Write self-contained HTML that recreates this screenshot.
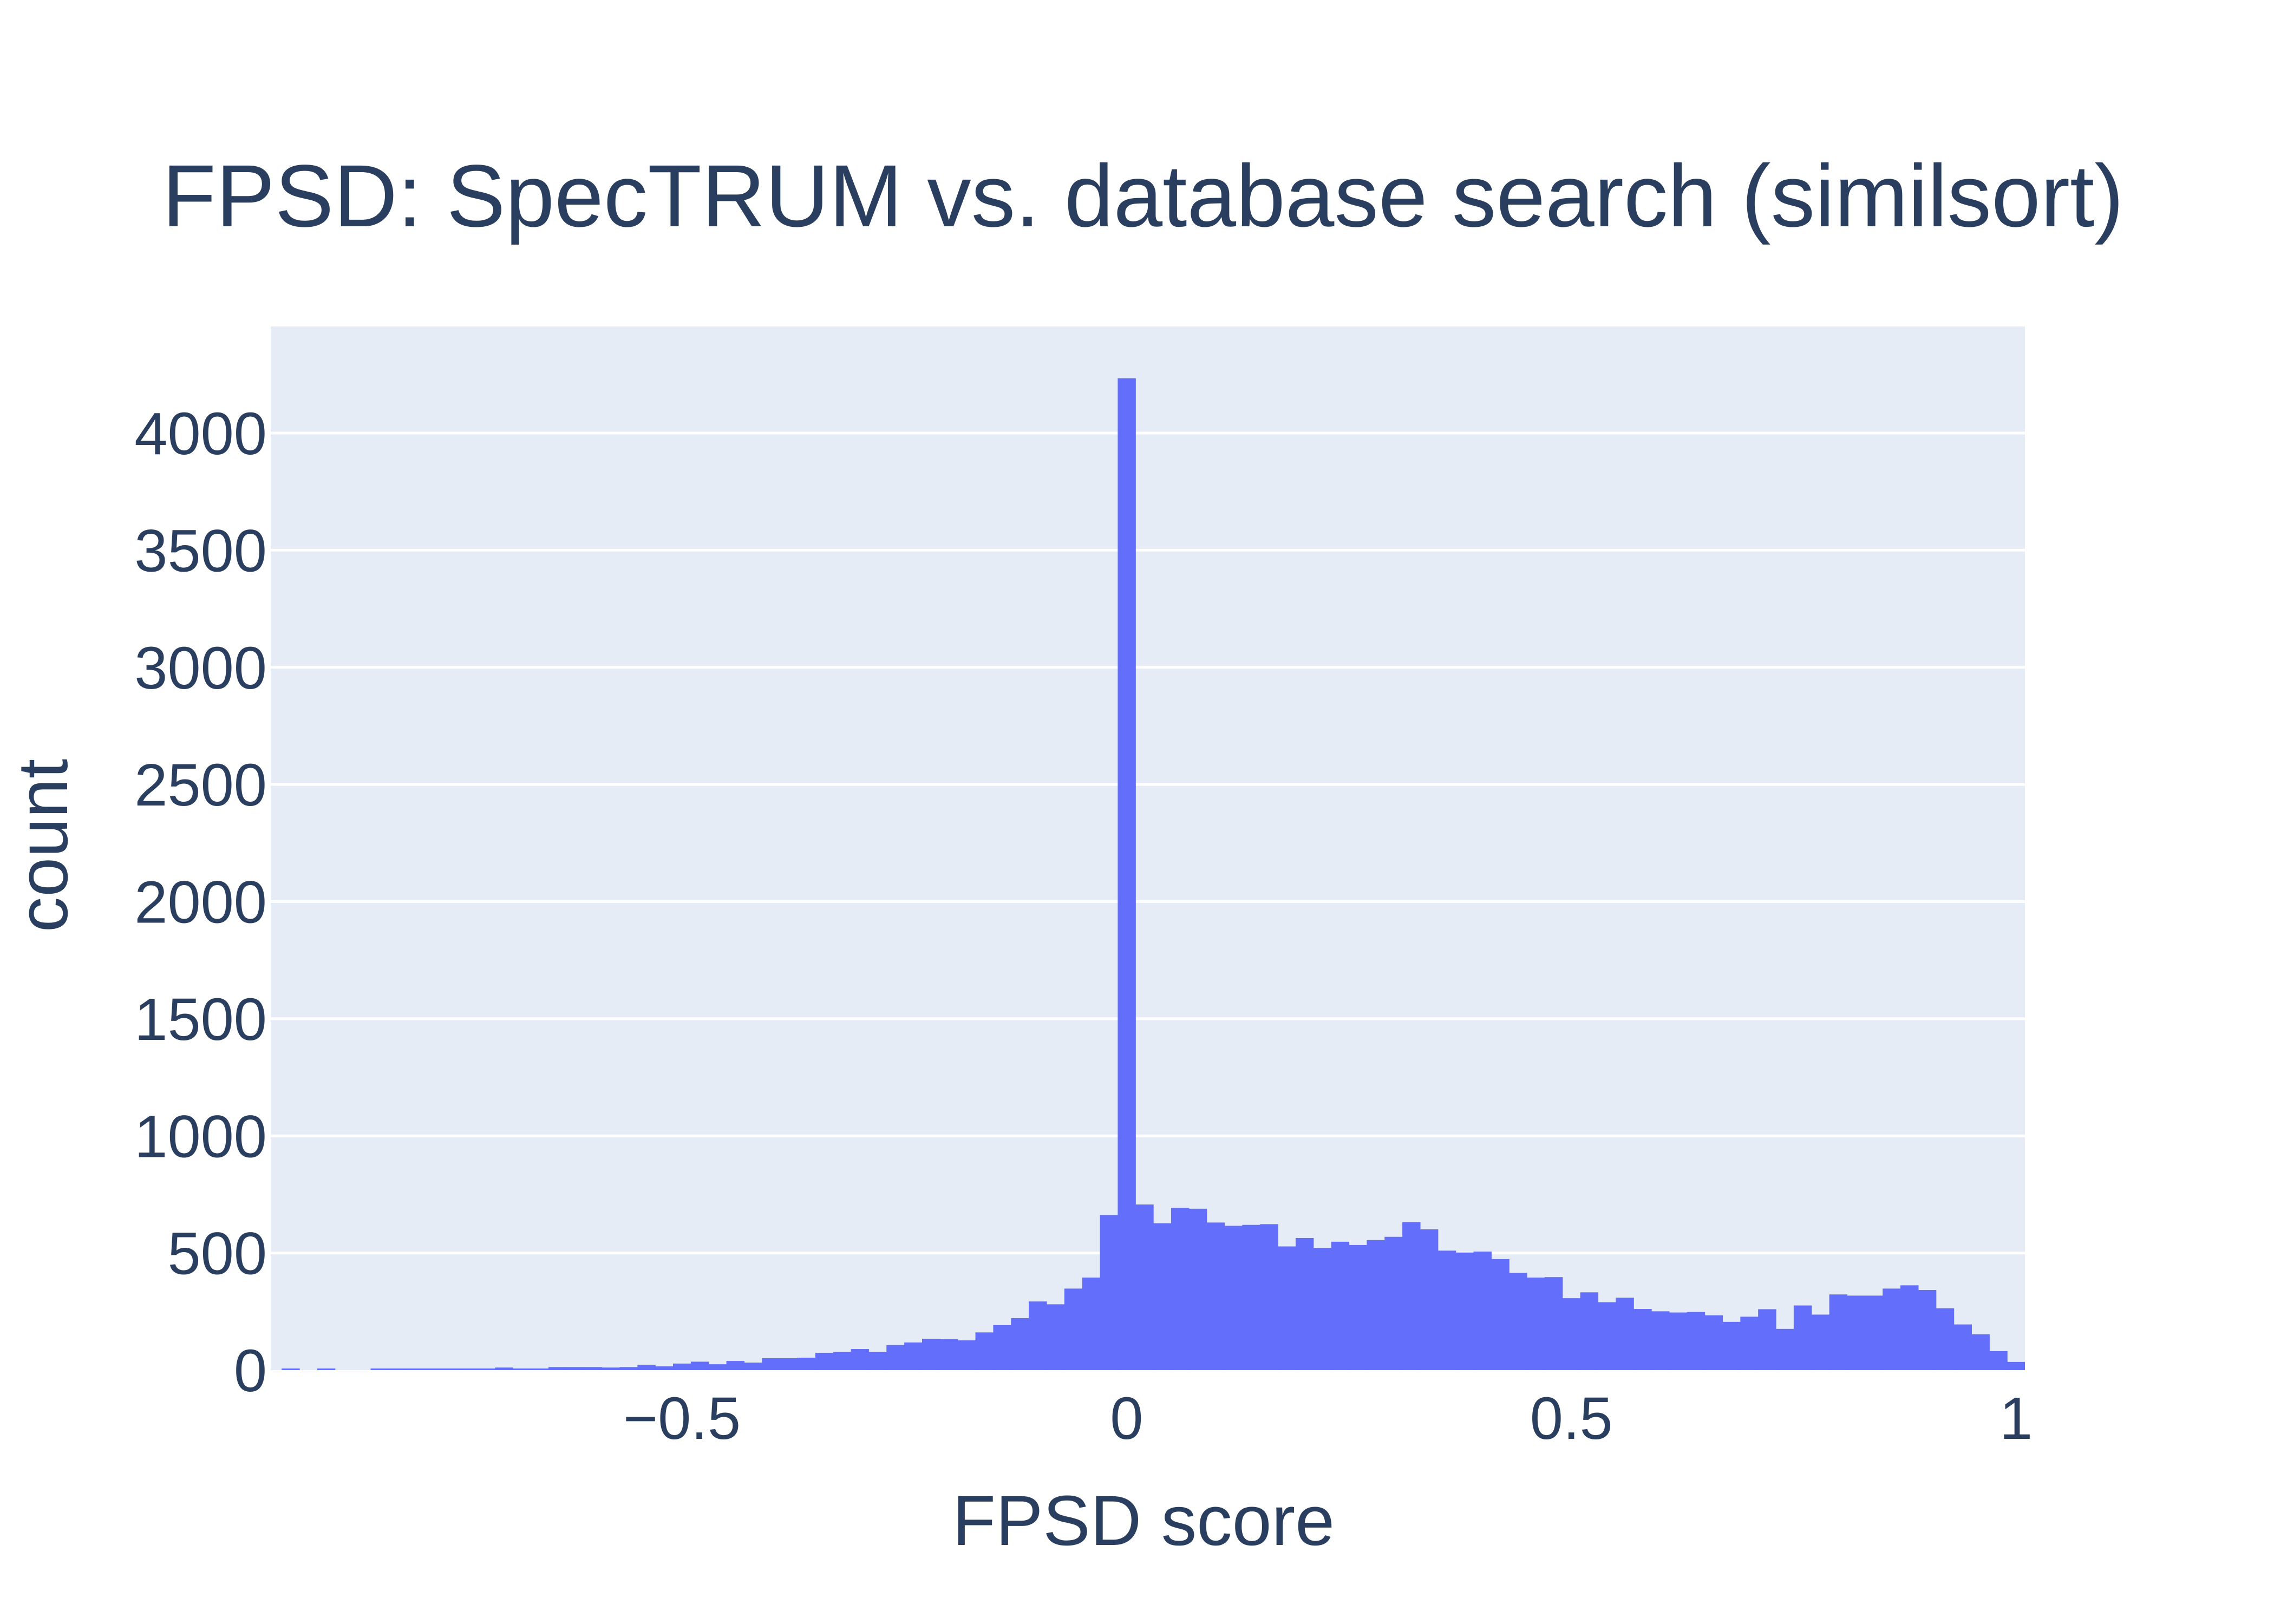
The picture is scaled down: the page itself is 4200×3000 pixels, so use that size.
<!DOCTYPE html>
<html><head><meta charset="utf-8"><style>
html,body{margin:0;padding:0;background:#fff;}
svg{display:block;font-family:"Liberation Sans",Arial,sans-serif;}
</style></head><body>
<svg id="chart" width="4200" height="3000" viewBox="0 0 4200 3000" xmlns="http://www.w3.org/2000/svg">
<rect width="4200" height="3000" fill="#ffffff"/>
<text x="2111" y="418" font-size="163" fill="#2a3f5f" text-anchor="middle">FPSD: SpecTRUM vs. database search (similsort)</text>
<defs><clipPath id="pc"><rect x="500" y="603" width="3240" height="1928"/></clipPath></defs>
<rect x="500" y="603" width="3240" height="1928" fill="#e5ecf6"/>
<g id="grid"></g>
<g id="bars" clip-path="url(#pc)"></g>
<g id="yticks"></g>
<g id="xticks"></g>
<text x="2112" y="2854" font-size="131" fill="#2a3f5f" text-anchor="middle">FPSD score</text>
<text transform="translate(124,1562) rotate(-90)" font-size="131" fill="#2a3f5f" text-anchor="middle">count</text>
</svg>
<script>
const binStart = -0.94;
const binWidth = 0.02;
const counts = [
1,0,1,0,0,2,6,2,2,4,4,4,11,4,4,13,13,13,11,13,23,16,28,36,25,39,32,51,51,53,74,78,90,78,107,118,134,132,127,161,192,222,293,281,348,395,662,
4234,
707,627,692,689,630,616,620,623,528,564,522,548,534,555,569,632,601,510,502,506,474,415,395,397,307,332,290,309,261,251,246,248,234,206,228,260,176,276,237,323,318,318,348,362,342,264,195,153,81,35
];
const yTickVals = [0,500,1000,1500,2000,2500,3000,3500,4000];
const yTickLabels = ["0","500","1000","1500","2000","2500","3000","3500","4000"];
const xTickVals = [-0.5,0,0.5,1];
const xTickLabels = ["\u22120.5","0","0.5","1"];

const NS = "http://www.w3.org/2000/svg";
const X0 = 500, X1 = 3740, Y0 = 2531, YT = 603;
const xMin = -0.9623, xMax = 1.01;
function xs(v){ return X0 + (v - xMin) * (X1 - X0) / (xMax - xMin); }
function ys(c){ return Y0 - c * (Y0 - 800) / 4000; }

const grid = document.getElementById('grid');
yTickVals.forEach((v,i)=>{
  if (v === 0) return;
  const l = document.createElementNS(NS,'line');
  
  
  l.setAttribute('x1', X0); l.setAttribute('x2', X1);
  l.setAttribute('y1', ys(v)); l.setAttribute('y2', ys(v));
  l.setAttribute('stroke', '#ffffff'); l.setAttribute('stroke-width', '5');
  grid.appendChild(l);
});

const bars = document.getElementById('bars');
counts.forEach((c,i)=>{
  const lo = binStart - binWidth/2 + i*binWidth;
  const hi = lo + binWidth;
  let h = Y0 - ys(c);
  if (c > 0 && h < 3) h = 3;
  const r = document.createElementNS(NS,'rect');
  
  
  r.setAttribute('x', xs(lo));
  r.setAttribute('width', xs(hi) - xs(lo) + 0.6);
  r.setAttribute('y', Y0 - h);
  r.setAttribute('height', h);
  r.setAttribute('fill', '#636efa');
  bars.appendChild(r);
});

const yt = document.getElementById('yticks');
yTickVals.forEach((v,i)=>{
  const t = document.createElementNS(NS,'text');
  
  
  t.setAttribute('x', 493); t.setAttribute('y', ys(v) + 39);
  t.setAttribute('font-size', '110'); t.setAttribute('fill', '#2a3f5f');
  t.setAttribute('text-anchor', 'end');
  t.textContent = yTickLabels[i];
  yt.appendChild(t);
});
const xt = document.getElementById('xticks');
xTickVals.forEach((v,i)=>{
  const t = document.createElementNS(NS,'text');
  
  
  t.setAttribute('x', xs(v)); t.setAttribute('y', 2658);
  t.setAttribute('font-size', '110'); t.setAttribute('fill', '#2a3f5f');
  t.setAttribute('text-anchor', 'middle');
  t.textContent = xTickLabels[i];
  xt.appendChild(t);
});
</script>
</body></html>
